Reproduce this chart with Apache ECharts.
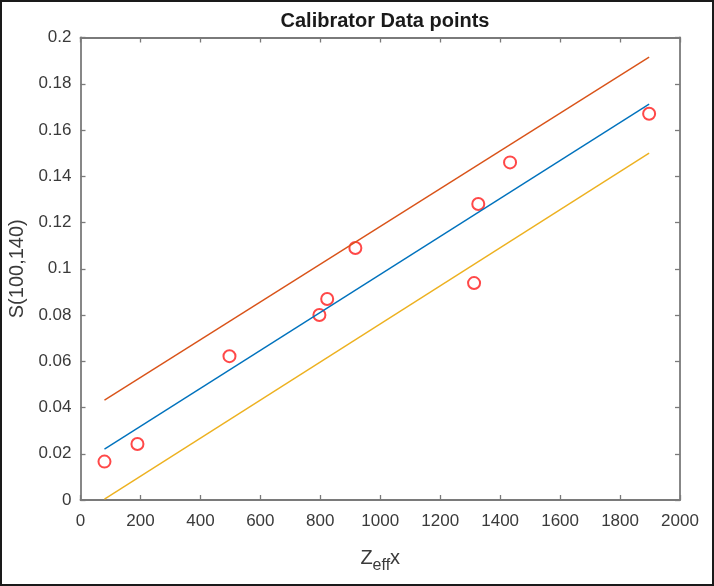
<!DOCTYPE html>
<html>
<head>
<meta charset="utf-8">
<script src="https://cdn.jsdelivr.net/npm/echarts@6/dist/echarts.min.js"></script>
<style>
  html, body { margin: 0; padding: 0; background: #fff; }
  #chart { width: 714px; height: 586px; }
</style>
</head>
<body>
<div id="chart"></div>
<script>
// calibrator points (Zeff x, S(100,140))
var pointX = [80, 190, 497, 797, 823, 917, 1313, 1327, 1433, 1897];
var pointY = [0.0166, 0.0242, 0.0622, 0.080, 0.0869, 0.109, 0.0938, 0.128, 0.146, 0.167];

// fitted line and its upper / lower bounds (end points)
var lineX = [80, 1897];
var fitY = [0.0220, 0.1712];
var upperY = [0.0432, 0.1915];
var lowerY = [0.0004, 0.1500];

var xTicks = { min: 0, max: 2000, interval: 200 };
var yTicks = { min: 0, max: 0.2, interval: 0.02 };

function pairs(xs, ys) {
  return xs.map(function (x, i) { return [x, ys[i]]; });
}

var axisGray = '#7a7a7a';
var textGray = '#3a3a3a';
var font = '"Liberation Sans", Arial, sans-serif';

var chart = echarts.init(document.getElementById('chart'));

var tickIn = { show: true, inside: true, length: 5, lineStyle: { color: axisGray, width: 1.3 } };
var lineSt = { show: true, onZero: false, lineStyle: { color: axisGray, width: 1.8 } };

chart.setOption({
  animation: false,
  title: {
    text: 'Calibrator Data points',
    left: 380, top: 6, textAlign: 'center',
    textStyle: { fontFamily: font, fontSize: 20, fontWeight: 'bold', color: '#1a1a1a' }
  },
  grid: { left: 80.5, right: 34, top: 37.5, bottom: 86, containLabel: false, outerBoundsMode: 'none' },
  xAxis: [{
    type: 'value', position: 'bottom',
    min: xTicks.min, max: xTicks.max, interval: xTicks.interval,
    axisLine: lineSt, axisTick: tickIn, splitLine: { show: false },
    axisLabel: { fontFamily: font, fontSize: 17, color: textGray, margin: 13,
      formatter: function (v) { return String(v); } },
    name: '{z|Z}{s|eff}{z|x}',
    nameLocation: 'middle', nameGap: 42,
    nameTextStyle: {
      rich: {
        z: { fontFamily: font, fontSize: 20, color: textGray },
        s: { fontFamily: font, fontSize: 16, color: textGray, padding: [16, 0, 0, 0] }
      }
    }
  }, {
    type: 'value', position: 'top',
    min: xTicks.min, max: xTicks.max, interval: xTicks.interval,
    axisLine: lineSt, axisTick: tickIn, splitLine: { show: false },
    axisLabel: { show: false }
  }],
  yAxis: [{
    type: 'value', position: 'left',
    min: yTicks.min, max: yTicks.max, interval: yTicks.interval,
    axisLine: lineSt, axisTick: tickIn, splitLine: { show: false },
    axisLabel: { fontFamily: font, fontSize: 17, color: textGray, margin: 9 },
    name: 'S(100,140)', nameLocation: 'middle', nameGap: 51, nameRotate: 90,
    nameTextStyle: { fontFamily: font, fontSize: 20, color: textGray }
  }, {
    type: 'value', position: 'right',
    min: yTicks.min, max: yTicks.max, interval: yTicks.interval,
    axisLine: lineSt, axisTick: tickIn, splitLine: { show: false },
    axisLabel: { show: false }
  }],
  series: [{
    type: 'line', data: pairs(lineX, fitY), showSymbol: false,
    lineStyle: { color: '#0072BD', width: 1.4 }
  }, {
    type: 'line', data: pairs(lineX, upperY), showSymbol: false,
    lineStyle: { color: '#D95319', width: 1.4 }
  }, {
    type: 'line', data: pairs(lineX, lowerY), showSymbol: false,
    lineStyle: { color: '#EDB120', width: 1.4 }
  }, {
    type: 'scatter', data: pairs(pointX, pointY),
    symbol: 'emptyCircle', symbolSize: 12,
    itemStyle: { color: '#ff1a1a', borderColor: '#e8202a', borderWidth: 1.6 }
  }],
  graphic: [{
    type: 'rect', silent: true,
    shape: { x: 1, y: 1, width: 712, height: 584 },
    style: { fill: null, stroke: '#1a1a1a', lineWidth: 2 }
  }]
});
</script>
</body>
</html>
